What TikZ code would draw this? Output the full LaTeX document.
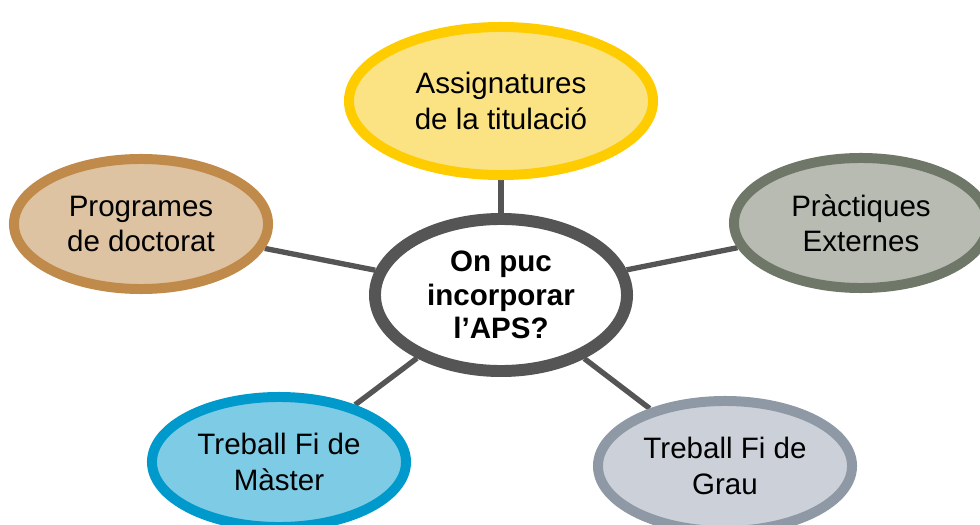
\documentclass[tikz,border=0pt]{standalone}
\usepackage{fontspec}
\setmainfont{Liberation Sans}
\usepackage{tikz}
\usepackage{xcolor}
\usetikzlibrary{shapes.geometric,backgrounds}
\definecolor{linegray}{HTML}{555555}
\definecolor{assigfill}{HTML}{FBE383}
\definecolor{assigline}{HTML}{FFCC00}
\definecolor{doctfill}{HTML}{DEC3A2}
\definecolor{doctline}{HTML}{BF8A4A}
\definecolor{pracfill}{HTML}{B7BBB2}
\definecolor{pracline}{HTML}{6F7868}
\definecolor{tfmfill}{HTML}{7DCBE5}
\definecolor{tfmline}{HTML}{0099CC}
\definecolor{tfgfill}{HTML}{CBD0D9}
\definecolor{tfgline}{HTML}{8E99A5}
\tikzset{
  bubble/.style={ellipse,draw,line width=7.1pt,inner sep=0pt,align=center,
    minimum width=6.35cm,minimum height=3.25cm,
    font=\fontsize{21}{25}\selectfont},
  link/.style={linegray,line width=3.8pt}
}

\begin{document}
\begin{tikzpicture}[x=0.025cm,y=-0.025cm]
            \useasboundingbox (0,0) rectangle (980,525);
            \node[bubble,line width=8.5pt,draw=linegray,fill=white,minimum width=6.3cm,minimum height=3.8cm,font=\fontsize{21}{24}\selectfont\bfseries] (aps) at (501,295) {On puc\\incorporar\\l’APS?};
            \node[bubble,draw=assigline,fill=assigfill,minimum width=7.6cm,minimum height=3.7cm] (assig) at (501,101) {Assignatures\\de la titulació};
            \node[bubble,draw=doctline,fill=doctfill] (doct) at (141,224) {Programes\\de doctorat};
            \node[bubble,draw=pracline,fill=pracfill] (prac) at (861,223) {Pràctiques\\Externes};
            \node[bubble,draw=tfmline,fill=tfmfill] (tfm) at (279,462) {Treball Fi de\\Màster};
            \node[bubble,draw=tfgline,fill=tfgfill] (tfg) at (725,466) {Treball Fi de\\Grau};
            \begin{scope}[on background layer]
            \draw[link] (aps) -- (assig);
            \draw[link] (aps) -- (doct);
            \draw[link] (aps) -- (prac);
            \draw[link] (aps) -- (tfm);
            \draw[link] (aps) -- (tfg);
            \end{scope}
        \end{tikzpicture}
\end{document}
